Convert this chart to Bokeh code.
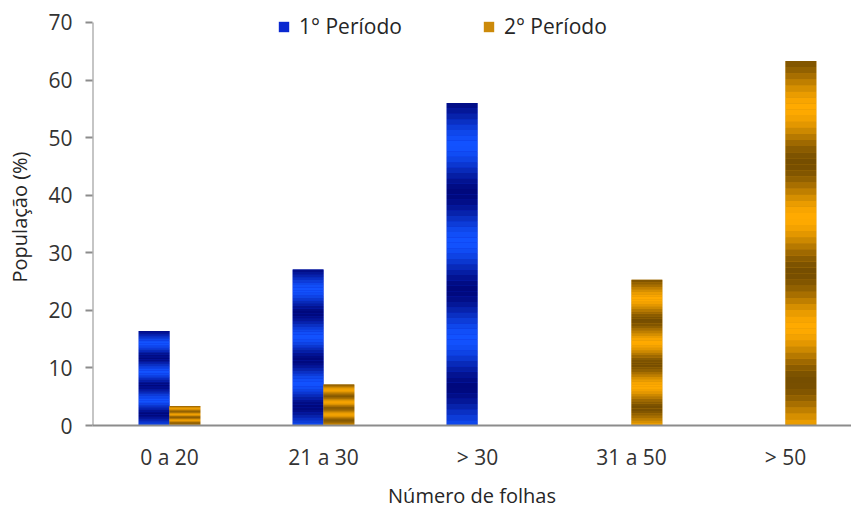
import numpy as np
from bokeh.plotting import figure
from bokeh.models import Legend, LegendItem, FixedTicker, ColumnDataSource
from bokeh.embed import file_html
from bokeh.resources import INLINE

categories = ["0 a 20", "21 a 30", "> 30", "31 a 50", "> 50"]
periodo1 = [16.4, 27.1, 56.0, 0.0, 0.0]
periodo2 = [3.4, 7.1, 0.0, 25.3, 63.3]
series_names = ["1° Período", "2° Período"]
y_ticks = [0, 10, 20, 30, 40, 50, 60, 70]

FONT = "Open Sans"
W, H = 851, 511
TOP_B, BOT_Y, AX_TOP = 8, 427, 22
y_end = max(y_ticks) * (BOT_Y - TOP_B) / (BOT_Y - AX_TOP)
p = figure(width=W, height=H, output_backend="svg", toolbar_location=None,
           x_range=(0, (851 - 92) / 154.0), y_range=(0, y_end),
           min_border_left=92, min_border_right=0, min_border_top=TOP_B,
           min_border_bottom=H - BOT_Y)
p.outline_line_color = None
p.grid.grid_line_color = None
p.background_fill_color = "white"

bar_w = 0.2
xs = np.arange(len(categories)) + 0.5

def gradient_bars(centers, values, base_color, dark, bright):
    left = centers - bar_w / 2
    right = centers + bar_w / 2
    src = ColumnDataSource(dict(left=left, right=right, top=values, bottom=[0] * len(values)))
    r = p.quad(left="left", right="right", top="top", bottom="bottom", source=src,
               fill_color=base_color, line_color=None)
    n = 60
    L, R, T, B, C = [], [], [], [], []
    dark = np.array(dark, float)
    bright = np.array(bright, float)
    for l, rr, v in zip(left, right, values):
        if v <= 0:
            continue
        for k in range(n):
            t = (k + 0.5) / n
            s = 0.5 + 0.5 * np.cos(2 * np.pi * (t - 0.27) / 0.3)
            c = dark + (bright - dark) * s
            L.append(l); R.append(rr)
            B.append(v * k / n); T.append(v * (k + 1) / n)
            C.append("#%02x%02x%02x" % tuple(int(round(x)) for x in c))
    p.quad(left=L, right=R, top=T, bottom=B, fill_color=C, line_color=None)
    return r

r1 = gradient_bars(xs - bar_w / 2, periodo1, "#0a28d0", (0, 8, 125), (18, 82, 255))
r2 = gradient_bars(xs + bar_w / 2, periodo2, "#cc8a0a", (118, 78, 0), (255, 170, 0))

# y axis line only over the tick span
p.segment(x0=[0], y0=[min(y_ticks)], x1=[0], y1=[max(y_ticks)],
          line_color="#8c8c8c", line_width=2)

legend = Legend(items=[LegendItem(label=series_names[0], renderers=[r1]),
                       LegendItem(label=series_names[1], renderers=[r2])],
                orientation="horizontal", location=(185, 385),
                padding=0, margin=0, spacing=80,
                border_line_color=None, background_fill_alpha=0,
                glyph_width=13, glyph_height=13, label_standoff=9,
                label_text_font=FONT, label_text_font_size="21px", label_text_color="#262626")
p.add_layout(legend, "center")

# x axis
p.xaxis.ticker = FixedTicker(ticks=list(xs))
p.xaxis.major_label_overrides = {float(x): c for x, c in zip(xs, categories)}
p.xaxis.major_tick_out = 0
p.xaxis.major_tick_in = 0
p.xaxis.minor_tick_line_color = None
p.xaxis.axis_line_color = "#8c8c8c"
p.xaxis.axis_line_width = 2
p.xaxis.major_label_standoff = 17
p.xaxis.axis_label = "Número de folhas"
p.xaxis.axis_label_standoff = 8

# y axis
p.yaxis.ticker = FixedTicker(ticks=y_ticks)
p.yaxis.major_tick_out = 7
p.yaxis.major_tick_in = 0
p.yaxis.minor_tick_line_color = None
p.yaxis.axis_line_color = None
p.yaxis.major_tick_line_color = "#8c8c8c"
p.yaxis.major_tick_line_width = 2
p.yaxis.major_label_standoff = 13
p.yaxis.axis_label = "População (%)"
p.yaxis.axis_label_standoff = 12

for ax in (p.xaxis[0], p.yaxis[0]):
    ax.major_label_text_font = FONT
    ax.major_label_text_font_size = "21px"
    ax.major_label_text_color = "#333333"
    ax.axis_label_text_font = FONT
    ax.axis_label_text_font_size = "20px"
    ax.axis_label_text_font_style = "normal"
    ax.axis_label_text_color = "#262626"

open("out.html", "w").write(file_html(p, INLINE))
